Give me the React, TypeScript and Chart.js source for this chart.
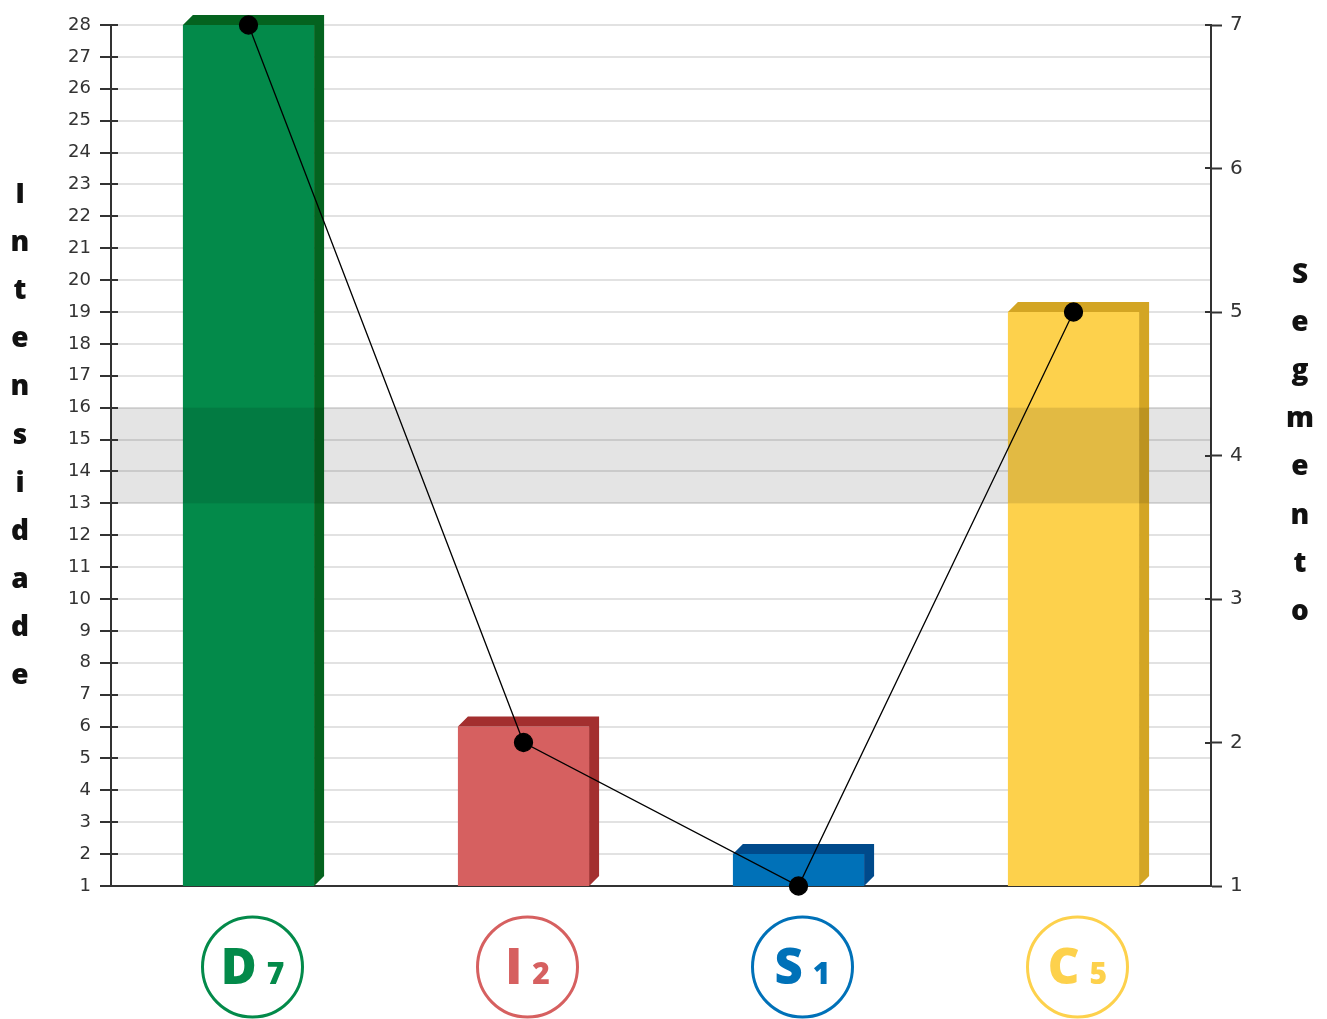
import React, { useEffect, useRef } from 'react';
import { Chart, registerables } from 'chart.js';

Chart.register(...registerables);

const categories = ['D', 'I', 'S', 'C'];
const categoryNumbers = ['7', '2', '1', '5'];
const intensidade = [28, 6, 2, 19];
const segmento = [7, 2, 1, 5];
const leftMin = 1;
const leftMax = 28;
const rightMin = 1;
const rightMax = 7;
const bandFrom = 13;
const bandTo = 16;
const frontColors = ['#038a4a', '#d66060', '#0071b8', '#fdd14c'];
const sideColors = ['#04631f', '#a32f2f', '#004a8b', '#d3a524'];
const leftTitle = 'Intensidade';
const rightTitle = 'Segmento';

const DEPTH = 10;
const LABEL_FONT = '"Open Sans"';

const barDepthPlugin = {
  id: 'barDepth',
  afterDatasetDraw(chart: any, args: any) {
    if (args.index !== 0) return;
    const ctx = chart.ctx;
    const meta = chart.getDatasetMeta(0);
    const ys = chart.scales.y;
    const basePx = ys.getPixelForValue(leftMin);
    meta.data.forEach((bar: any, i: number) => {
      const { x, y, width } = bar.getProps(['x', 'y', 'width'], true);
      const base = basePx;
      const l = x - width / 2;
      const r = x + width / 2;
      ctx.save();
      ctx.fillStyle = sideColors[i];
      ctx.beginPath();
      ctx.moveTo(l, y);
      ctx.lineTo(l + DEPTH, y - DEPTH);
      ctx.lineTo(r + DEPTH, y - DEPTH);
      ctx.lineTo(r + DEPTH, base - DEPTH);
      ctx.lineTo(r, base);
      ctx.lineTo(r, y);
      ctx.closePath();
      ctx.fill();
      ctx.restore();
    });
    // highlighted band
    const ca = chart.chartArea;
    const top = ys.getPixelForValue(bandTo);
    const bottom = ys.getPixelForValue(bandFrom);
    ctx.save();
    ctx.fillStyle = 'rgba(0,0,0,0.105)';
    ctx.fillRect(ca.left, top, ca.right - ca.left, bottom - top);
    ctx.restore();
  },
};

const innerTicksPlugin = {
  id: 'innerTicks',
  afterDraw(chart: any) {
    const ctx = chart.ctx;
    const ca = chart.chartArea;
    ctx.save();
    ctx.strokeStyle = '#333';
    ctx.lineWidth = 2;
    const ys = chart.scales.y;
    ys.ticks.forEach((t: any) => {
      const p = Math.round(ys.getPixelForValue(t.value));
      ctx.beginPath();
      ctx.moveTo(ca.left, p);
      ctx.lineTo(ca.left + 7, p);
      ctx.stroke();
    });
    const y1 = chart.scales.y1;
    y1.ticks.forEach((t: any) => {
      const p = Math.round(y1.getPixelForValue(t.value));
      ctx.beginPath();
      ctx.moveTo(ca.right - 6, p);
      ctx.lineTo(ca.right, p);
      ctx.stroke();
    });
    ctx.restore();
  },
};

const labelsPlugin = {
  id: 'customLabels',
  afterDraw(chart: any) {
    const ctx = chart.ctx;
    const xs = chart.scales.x;
    ctx.save();
    // vertical stacked titles
    ctx.fillStyle = '#111';
    ctx.font = `800 28px ${LABEL_FONT}`;
    ctx.textAlign = 'center';
    ctx.textBaseline = 'alphabetic';
    const step = 48.1;
    leftTitle.split('').forEach((ch, i) => {
      ctx.fillText(ch, 20, 203 + i * step);
    });
    rightTitle.split('').forEach((ch, i) => {
      ctx.fillText(ch, 1300, 283 + i * step);
    });
    // circle category labels
    categories.forEach((cat, i) => {
      const cx = xs.getPixelForValue(i) + DEPTH / 2 - 1;
      const cy = 967;
      ctx.strokeStyle = frontColors[i];
      ctx.fillStyle = frontColors[i];
      ctx.lineWidth = 3;
      ctx.beginPath();
      ctx.arc(cx, cy, 50, 0, Math.PI * 2);
      ctx.stroke();
      ctx.font = `800 49px ${LABEL_FONT}`;
      const wL = ctx.measureText(cat).width;
      ctx.font = `800 30px ${LABEL_FONT}`;
      const wN = ctx.measureText(categoryNumbers[i]).width;
      const gap = 10;
      const start = cx - (wL + gap + wN) / 2;
      ctx.textAlign = 'left';
      ctx.font = `800 49px ${LABEL_FONT}`;
      ctx.fillText(cat, start, 984);
      ctx.font = `800 30px ${LABEL_FONT}`;
      ctx.fillText(categoryNumbers[i], start + wL + gap, 984);
    });
    ctx.restore();
  },
};

export default function App() {
  const canvasRef = useRef<HTMLCanvasElement | null>(null);

  useEffect(() => {
    const canvas = canvasRef.current;
    if (!canvas) return;
    const chart = new Chart(canvas, {
      type: 'bar',
      data: {
        labels: categories,
        datasets: [
          {
            type: 'bar',
            label: leftTitle,
            data: intensidade,
            backgroundColor: frontColors,
            borderWidth: 0,
            yAxisID: 'y',
            order: 2,
            categoryPercentage: 1,
            barPercentage: 0.477,
          } as any,
          {
            type: 'line',
            label: rightTitle,
            data: segmento,
            borderColor: '#000',
            borderWidth: 1.3,
            backgroundColor: '#000',
            pointBackgroundColor: '#000',
            pointBorderColor: '#000',
            pointRadius: 9,
            tension: 0,
            yAxisID: 'y1',
            order: 1,
            clip: false,
          } as any,
        ],
      },
      options: {
        animation: false,
        responsive: true,
        maintainAspectRatio: false,
        layout: { padding: { top: 25, bottom: 133, left: 0, right: 0 } },
        plugins: {
          legend: { display: false },
          tooltip: { enabled: false },
        },
        scales: {
          x: {
            display: false,
          },
          y: {
            position: 'left',
            min: leftMin,
            max: leftMax,
            afterFit: (s: any) => {
              s.width = 111;
            },
            border: { display: true, color: '#333', width: 2 },
            grid: {
              color: (c: any) => (c.tick && c.tick.value === leftMin ? '#333' : '#e2e2e2'),
              lineWidth: 2,
              tickLength: 11,
              tickColor: '#333',
              tickWidth: 2,
            } as any,
            ticks: {
              stepSize: 1,
              autoSkip: false,
              color: '#333',
              padding: 9,
              font: { family: '"DejaVu Sans"', size: 18 },
            },
          },
          y1: {
            position: 'right',
            min: rightMin,
            max: rightMax,
            afterFit: (s: any) => {
              s.width = 116;
            },
            border: { display: true, color: '#333', width: 2 },
            grid: {
              drawOnChartArea: false,
              tickLength: 11,
              tickColor: '#333',
              tickWidth: 2,
            } as any,
            ticks: {
              stepSize: 1,
              autoSkip: false,
              color: '#333',
              padding: 8,
              font: { family: '"DejaVu Sans"', size: 20 },
            },
          },
        },
      },
      plugins: [barDepthPlugin, innerTicksPlugin, labelsPlugin],
    });
    return () => chart.destroy();
  }, []);

  return (
    <div style={{ position: 'absolute', left: 0, top: 0, width: 1327, height: 1019, background: '#fff' }}>
      <canvas ref={canvasRef} />
    </div>
  );
}
